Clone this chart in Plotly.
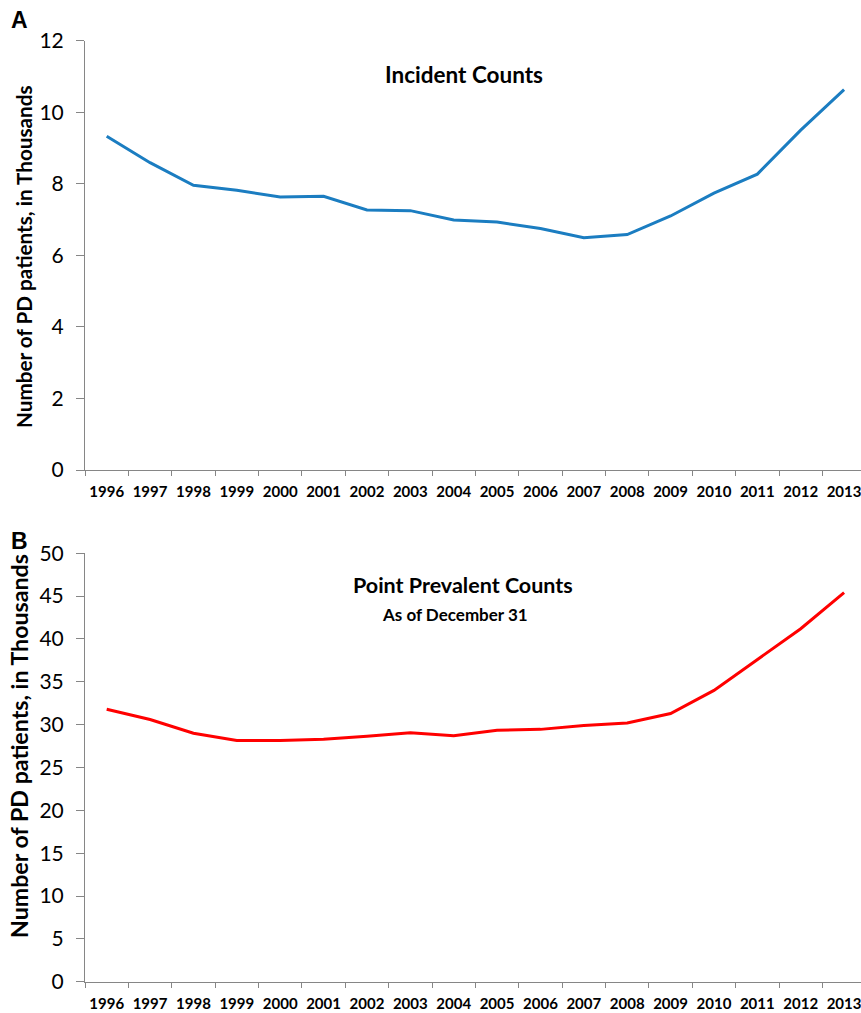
import plotly.graph_objects as go

years = [str(y) for y in range(1996, 2014)]
incident = [9.33, 8.59, 7.96, 7.82, 7.63, 7.65, 7.27, 7.25, 6.99, 6.93, 6.75, 6.49, 6.58, 7.10, 7.74, 8.27, 9.50, 10.63]
prevalent = [31.8, 30.6, 29.0, 28.15, 28.15, 28.3, 28.65, 29.05, 28.7, 29.35, 29.45, 29.9, 30.2, 31.3, 34.0, 37.6, 41.2, 45.4]

W, H = 861, 1013
AX = "#868686"
FONT = "Lato"

def py(px):
    return 1 - px / H

fig = go.Figure()
fig.add_trace(go.Scatter(x=years, y=incident, mode="lines", line=dict(color="#1b7dc1", width=3),
                         xaxis="x", yaxis="y", showlegend=False))
fig.add_trace(go.Scatter(x=years, y=prevalent, mode="lines", line=dict(color="#ff0000", width=3),
                         xaxis="x2", yaxis="y2", showlegend=False))

xcommon = dict(type="category", range=[-0.5, 17.39], tickson="boundaries", ticks="outside", ticklen=5,
               tickcolor=AX, showline=True, linecolor=AX, linewidth=1, showgrid=False, zeroline=False,
               automargin=False, ticklabelstandoff=8, tickangle=0,
               tickfont=dict(family=FONT, size=15, color="black", weight="bold"), domain=[85 / W, 1.0])
ycommon = dict(ticks="outside", ticklen=8, tickcolor=AX, showline=True, linecolor=AX, linewidth=1,
               showgrid=False, zeroline=False, automargin=False, ticklabelstandoff=8,
               tickfont=dict(family=FONT, size=21, color="black"))

fig.update_layout(
    width=W, height=H, margin=dict(l=0, r=0, t=0, b=0, autoexpand=False),
    plot_bgcolor="white", paper_bgcolor="white",
    xaxis=dict(xcommon, anchor="y"),
    yaxis=dict(ycommon, range=[0, 12], dtick=2, domain=[py(470), py(40.7)], anchor="x"),
    xaxis2=dict(xcommon, anchor="y2"),
    yaxis2=dict(ycommon, range=[0, 50], dtick=5, domain=[py(981.7), py(553.3)], anchor="x2"),
)

ann = []
ann.append(dict(text="<b>A</b>", x=9 / W, y=py(20), xref="paper", yref="paper", xanchor="left", yanchor="middle",
                showarrow=False, font=dict(family="Liberation Sans", size=23, color="black")))
ann.append(dict(text="<b>B</b>", x=9 / W, y=py(541), xref="paper", yref="paper", xanchor="left", yanchor="middle",
                showarrow=False, font=dict(family="Liberation Sans", size=23, color="black")))
ann.append(dict(text="<b>Number of PD patients, in Thousands</b>", x=24 / W, y=py(257), xref="paper", yref="paper",
                xanchor="center", yanchor="middle", textangle=-90, showarrow=False,
                font=dict(family=FONT, size=20.7, color="black")))
ann.append(dict(text="<b>Number of PD patients, in Thousands</b>", x=19 / W, y=py(746), xref="paper", yref="paper",
                xanchor="center", yanchor="middle", textangle=-90, showarrow=False,
                font=dict(family=FONT, size=23.2, color="black")))
ann.append(dict(text="<b>Incident Counts</b>", x=464 / W, y=py(74), xref="paper", yref="paper",
                xanchor="center", yanchor="middle", showarrow=False, font=dict(family=FONT, size=22.5, color="black")))
ann.append(dict(text="<b>Point Prevalent Counts</b>", x=463 / W, y=py(585), xref="paper", yref="paper",
                xanchor="center", yanchor="middle", showarrow=False, font=dict(family=FONT, size=21.5, color="black")))
ann.append(dict(text="<b>As of December 31</b>", x=455 / W, y=py(614), xref="paper", yref="paper",
                xanchor="center", yanchor="middle", showarrow=False, font=dict(family=FONT, size=17, color="black")))
fig.update_layout(annotations=ann)

fig.write_html("out.html", config={"displayModeBar": False},
               post_script="document.body.style.margin='0';document.body.style.overflow='hidden';")
